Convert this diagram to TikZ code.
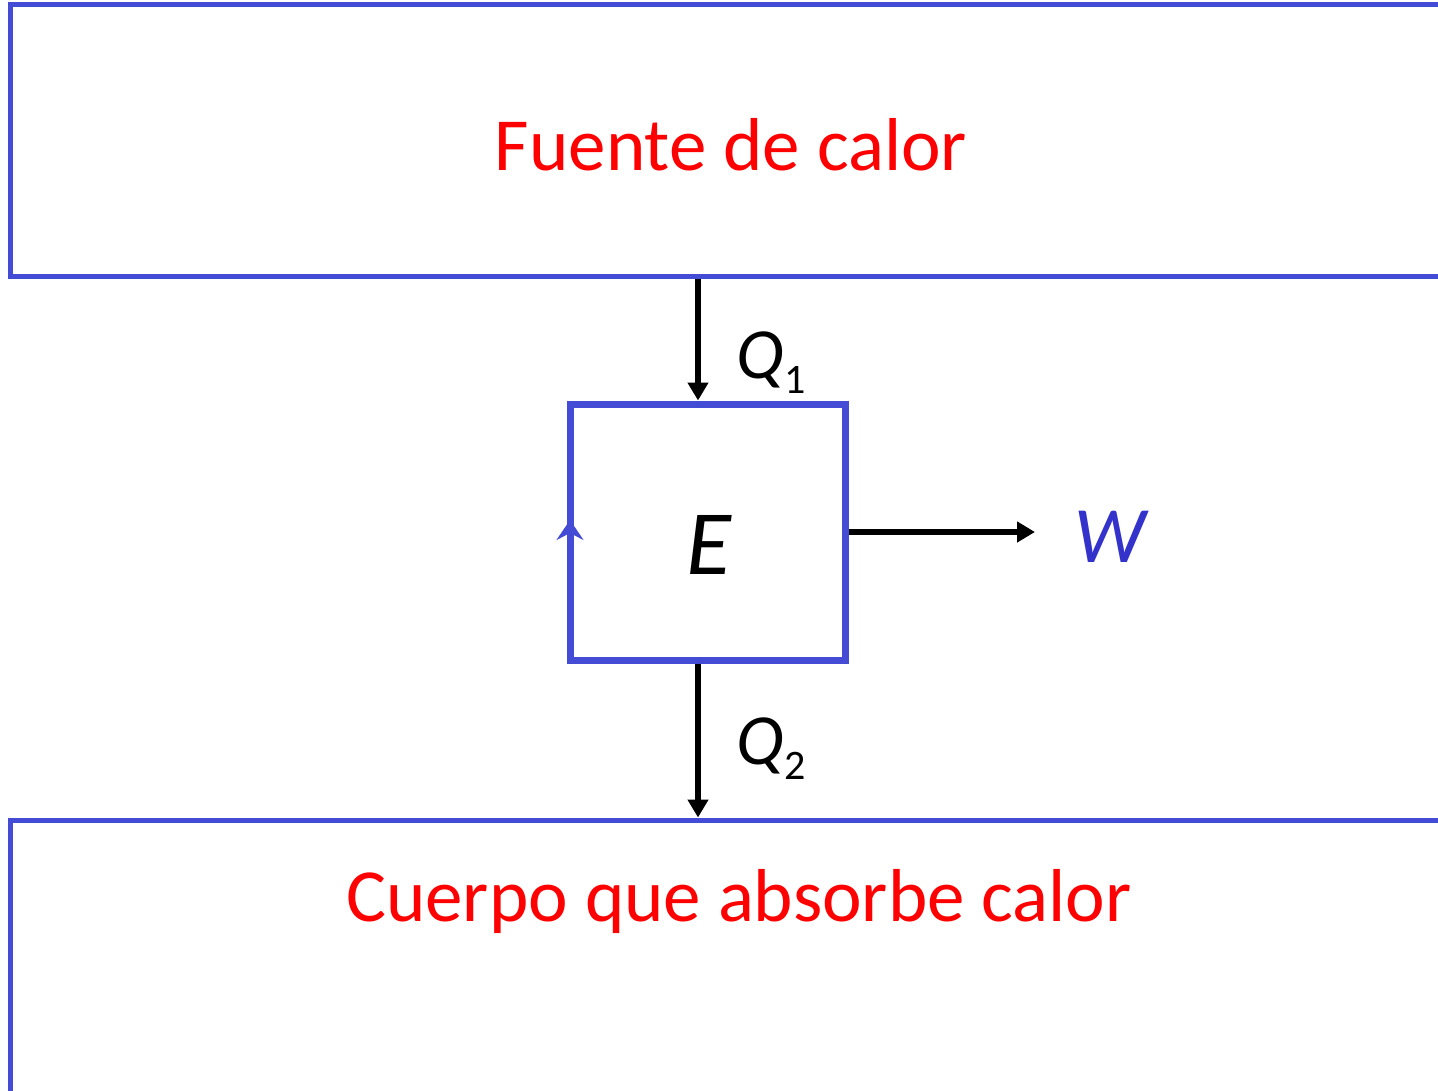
\documentclass[tikz,border=0pt]{standalone}
\usepackage{fontspec}
\setmainfont{Carlito}
\usetikzlibrary{arrows.meta}
\definecolor{boxblue}{RGB}{68,76,214}
\definecolor{wblue}{RGB}{51,51,204}
\definecolor{lblred}{RGB}{255,0,0}
\tikzset{
  wall/.style={draw=boxblue, line width=5pt, rectangle, inner sep=0pt},
  flow/.style={draw=black, line width=5.5pt, -{Triangle[length=18pt,width=20pt]}},
  bigred/.style={text=lblred, font=\fontsize{75}{90}\selectfont, inner sep=0pt},
  qlbl/.style={font=\fontsize{72}{86}\selectfont, inner sep=0pt, anchor=base west},
}
\newcommand{\qsub}[1]{\textit{Q}\raisebox{-15pt}{\fontsize{42}{50}\selectfont #1}}
\begin{document}
\begin{tikzpicture}[x=1pt,y=-1pt]
\useasboundingbox (0,0) rectangle (1438,1090);
\clip (0,0) rectangle (1438,1090);
\fill[white] (0,0) rectangle (1438,1090);
% heat source
\node[wall, minimum width=1460pt, minimum height=272pt] (src) at (740,140) {};
\node[bigred, anchor=base] (srclbl) at (731,170) {Fuente de calor};
% heat sink
\node[wall, minimum width=1460pt, minimum height=300pt] (snk) at (740,970) {};
\node[bigred, anchor=base] (snklbl) at (739,921) {Cuerpo que absorbe calor};
% engine
\node[wall, line width=7pt, minimum width=275pt, minimum height=256pt] (E) at (707.5,532) {};
\node[font=\fontsize{92}{110}\selectfont\itshape, inner sep=0pt, anchor=base] (Elbl) at (709,574) {E};
% cycle direction mark
\coordinate (cyA) at (570,545);
\coordinate (cyB) at (570,520);
\draw[draw=boxblue, line width=5pt, -{Stealth[length=20pt,width=27pt,inset=7pt]}] (cyA) -- (cyB);
% flows
\coordinate (ax) at (698,0);
\draw[flow] (ax |- src.south) -- (ax |- E.north);
\draw[flow] (ax |- E.south) -- (ax |- snk.north);
\node[text=wblue, font=\fontsize{80}{96}\selectfont\itshape, inner sep=0pt, anchor=base west] (W) at (1074,562) {W};
\coordinate (wend) at (1035,532);
\draw[flow] (E.east) -- (wend);
\node[qlbl] (q1) at (736,378) {\qsub{1}};
\node[qlbl] (q2) at (736,764) {\qsub{2}};
\end{tikzpicture}
\end{document}
